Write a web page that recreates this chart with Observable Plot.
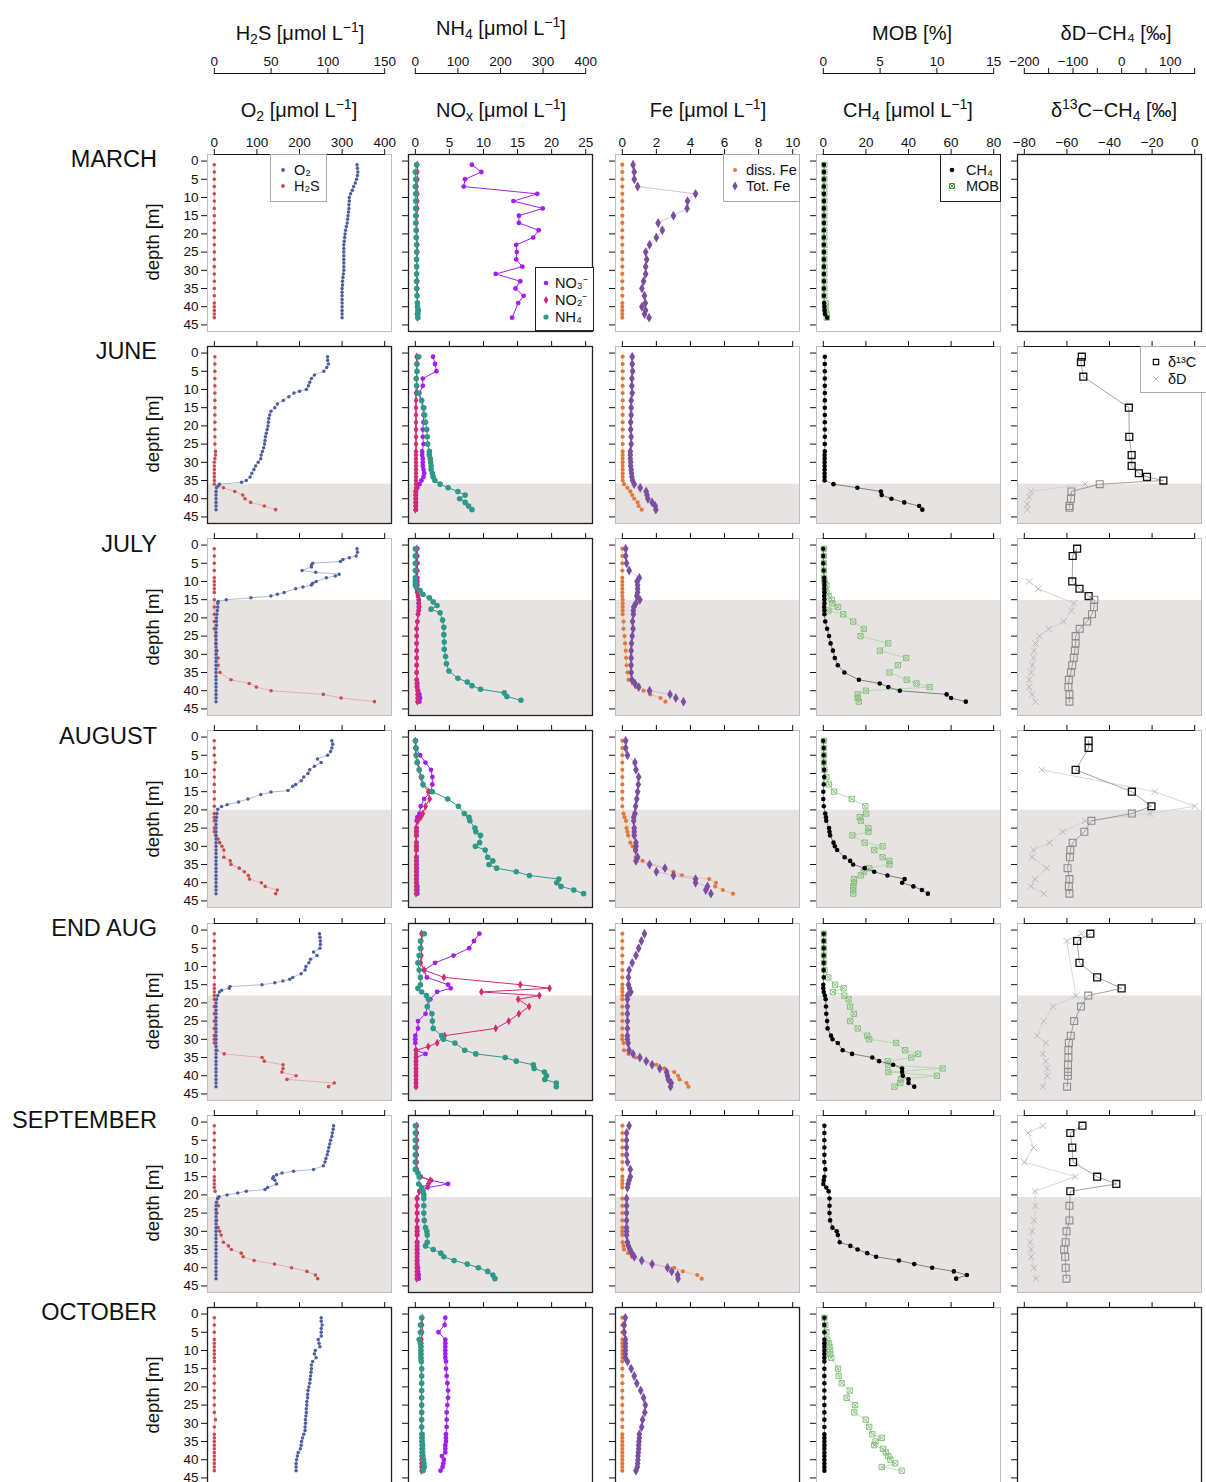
<!DOCTYPE html>
<html><head><meta charset="utf-8">
<script src="https://cdn.jsdelivr.net/npm/d3@7"></script>
<script src="https://cdn.jsdelivr.net/npm/@observablehq/plot@0.6"></script>
<style>
body{margin:0;background:#fff;}
#root{position:relative;width:1206px;height:1482px;overflow:hidden;background:#fff;font-family:"Liberation Sans",Arial,sans-serif;color:#111;}
.title{position:absolute;font-size:20px;white-space:nowrap;transform:translate(-50%,-50%);line-height:1;}
.title sub{font-size:70%;vertical-align:-0.3em;line-height:0;}
.title sup{font-size:70%;vertical-align:0.55em;line-height:0;}
.rowlab{position:absolute;left:0;width:157px;text-align:right;font-size:23.5px;line-height:1;transform:translateY(-50%);white-space:nowrap;}
.ylab{position:absolute;font-size:18.5px;line-height:1;white-space:nowrap;transform:translate(-50%,-50%) rotate(-90deg);}
.legend{position:absolute;background:#fff;font-size:14.5px;box-sizing:border-box;}
.legend span{position:absolute;white-space:nowrap;transform:translateY(-50%);line-height:1;}
.legend svg{position:absolute;overflow:visible;}
</style></head>
<body><div id="root"></div>
<script>
// ---------------- DATA ----------------
const months = ["MARCH","JUNE","JULY","AUGUST","END AUG","SEPTEMBER","OCTOBER"];
const anoxicTop = [null, 36.0, 15.2, 20.1, 18.1, 20.7, null];
const depthTicks = [0,5,10,15,20,25,30,35,40,45];
const o2Ticks = [0,100,200,300,400];
const h2sTicks = [0,50,100,150];
const noxTicks = [0,5,10,15,20,25];
const nh4Ticks = [0,100,200,300,400];
const feTicks = [0,2,4,6,8,10];
const ch4Ticks = [0,20,40,60,80];
const mobTicks = [0,5,10,15];
const d13Ticks = [-80,-60,-40,-20,0];
const dDTicks = [-200,-150,-100,-50,0,50,100,150];

// O2 [µmol/L]  [depth, value]
const o2Mar = [[1,335],[2,336],[3,337],[4,336],[5,334],[6,331],[7,327],[8,324],[9,320],[10,317],[11,317],[12,316],[13,316],[14,315],[15,314],[16,313],[17,312],[18,310],[19,308],[20,307],[21,306],[22,305],[23,304],[24,304],[25,304],[26,304],[27,304],[28,304],[29,304],[30,304],[31,303],[32,302],[33,301],[34,301],[35,300],[36,300],[37,300],[38,300],[39,300],[40,300],[41,300],[42,300],[43,300]];
const o2Jun = [[1,266],[2,266],[3,268],[4,264],[5,257],[6,235],[7,228],[8,224],[9,221],[10,216],[10.5,200],[11,187],[12,175],[13,162],[14,148],[15,142],[16,133],[17,130],[18,128],[19,127],[20,126],[21,124],[22,122],[23,120],[24,119],[25,118],[26,116],[27,113],[28,110],[29,109],[30,103],[31,97],[32,93],[33,88],[34,84],[35,75],[35.5,64],[36,12],[36.5,9],[37,5],[38,4],[39,4],[40,4],[41,4],[42,4],[43,4]];
const o2Jul = [[1,335],[2,336],[3,333],[3.5,317],[4,302],[4.5,296],[5,231],[5.5,228],[6,228],[7,206],[7.5,238],[8,293],[8.5,284],[9,263],[10,239],[10.5,231],[11,228],[11.5,208],[12,191],[13,164],[13.5,148],[14,133],[14.5,86],[15,28],[15.5,9],[16,8],[17,8],[18,7],[19,6],[20,5],[21,5],[22,5],[23,4],[24,4],[25,4],[26,4],[27,4],[28,4],[29,4],[30,4],[31,4],[32,4],[33,4],[34,4],[35,4],[36,4],[37,4],[38,4],[39,4],[40,4],[41,4],[42,4],[43,4]];
const o2Aug = [[1,276],[2,278],[3,276],[4,273],[5,266],[6,242],[7,251],[8,235],[9,224],[10,220],[11,210],[12,204],[13,191],[13.5,184],[14.7,173],[15.1,133],[15.8,109],[17,79],[17.8,57],[18.6,30],[19.1,17],[19.8,8],[21,6],[22,5],[23,4],[24,4],[25,4],[26,4],[27,4],[28,4],[29,4],[30,4],[31,4],[32,4],[33,4],[34,4],[35,4],[36,4],[37,4],[38,4],[39,4],[40,4],[41,4],[42,4],[43,4]];
const o2Eau = [[1,247],[2,248],[3,249],[4,249],[5,248],[6,233],[7,241],[8,226],[9,222],[10,215],[11,213],[12,204],[13,184],[13.5,177],[14,161],[14.5,142],[15,112],[15.5,37],[16,35],[16.5,17],[17,12],[18,8],[19,5],[20,4],[21,4],[22,4],[23,4],[24,4],[25,4],[26,4],[27,4],[28,4],[29,4],[30,4],[31,4],[32,4],[33,4],[34,4],[35,4],[36,4],[37,4],[38,4],[39,4],[40,4],[41,4],[42,4],[43,4]];
const o2Sep = [[1,280],[2,279],[3,277],[4,276],[5,273],[6,271],[7,269],[8,267],[9,265],[10,262],[11,260],[12,256],[13,233],[13.5,186],[14,159],[14.5,146],[15,139],[15.5,137],[16,142],[17,146],[18,125],[18.5,119],[19,75],[19.5,55],[20,30],[20.5,11],[21,8],[22,5],[23,4],[24,4],[25,4],[26,4],[27,4],[28,4],[29,4],[30,4],[31,4],[32,4],[33,4],[34,4],[35,4],[36,4],[37,4],[38,4],[39,4],[40,4],[41,4],[42,4],[43,4]];
const o2Oct = [[1,251],[2,251],[3,253],[4,251],[5,251],[6,251],[7,244],[8,246],[9,248],[10,237],[11,235],[12,239],[13,231],[14,228],[15,228],[16,227],[17,226],[18,225],[19,224],[20,222],[21,220],[22,219],[23,219],[24,217],[25,217],[26,216],[27,216],[28,215],[29,214],[30,214],[31,213],[32,213],[33,210],[34,207],[35,205],[36,204],[37,202],[38,197],[39,195],[40,193],[41,192],[42,192],[43,192]];

// H2S [µmol/L]
const h2sMar = [[1,0],[3,0],[5,0],[7,0],[9,0],[11,0],[13,0],[15,0],[17,0],[19,0],[21,0],[23,0],[25,0],[27,0],[29,0],[31,0],[33,0],[35,0],[37,0],[39,0],[40,0],[41,0],[42,0],[43,0]];
const h2sJun = [[1,0.5],[3,0.5],[5,0.5],[7,0.5],[9,0.5],[11,0.5],[13,0.5],[15,0.5],[17,0.5],[19,0.5],[21,0.5],[23,0.5],[25,0.5],[27,1],[28,1],[29,0.5],[30,0],[31,0],[32,0],[33,0],[34,0],[35,0],[36,0],[37,8],[38,18],[39,25],[40,27],[41,32],[42,44],[43,54]];
const h2sJul = [[1,0],[3,0],[5,0],[7,0],[9,0],[10,0],[11,0],[12,0],[13,0],[15,0],[17,0],[19,0],[21,0],[23,0],[25,1],[27,1.3],[29,2.3],[31,3.3],[33,3.3],[35,5],[37,14.7],[38,30.7],[39,37],[40,50],[41,96],[42,111.6],[43,141]];
const h2sAug = [[1,0],[3,0],[5,0],[7,0.7],[9,0],[11,0],[13,0],[15,0],[17,0],[19,0],[21,0],[22,0],[23,0],[25,0],[26,0],[27,1.3],[28,3.3],[29,4.7],[30,6.7],[31,8.4],[33,8.4],[34,14],[35,14.7],[36,22],[37,26.4],[38,30],[39,31],[40,41.4],[41,44.8],[42,55.4],[43,54]];
const h2sEau = [[1,0],[3,0],[5,0],[7,0],[9,0],[11,0],[13,0],[15,0],[16,0],[17,0],[18,0],[19,0],[21,0],[23,0],[25,0],[27,0],[29,0],[30,0],[31,0],[33,2.3],[34,8.7],[35,42],[36,44],[37,60.5],[38,60.5],[39,59.5],[40,72],[41,64],[42,105.6],[43,100.6]];
const h2sSep = [[1,0],[3,0],[5,0],[7,0],[9,0],[11,0],[13,0],[15,0],[16,0],[17,0],[18,0],[19,0.7],[21,3],[23,3.7],[25,2.3],[27,2],[29,3.3],[30,4.7],[31,6],[33,8],[34,12.4],[35,15],[36,23.7],[37,25.4],[38,35],[39,53],[40,68],[41,81.5],[42,89],[43,91]];
const h2sOct = [[1,0],[3,0],[5,0],[7,0],[8,0],[9,0],[10,0],[11,0],[12,0],[13,0],[15,0],[17,0],[19,0],[21,0],[23,0],[25,0],[27,0],[29,1],[31,0],[33,0],[34,0],[35,0],[36,0],[37,0],[38,0],[39,0],[40,0],[41,0],[42,0],[43,0]];

// NO3- [µmol/L]
const no3Mar = [[1,8.3],[3,9.7],[5,7.3],[7,7.1],[9,17.9],[11,14.4],[13,18.7],[15,15.2],[17,15.2],[19,18.1],[21,17.3],[23,14.8],[25,14.9],[27,14.8],[29,15.7],[31,11.8],[33,15.4],[35,14.7],[37,15.9],[39,15.1],[43,14.2]];
const no3Jun = [[1,2.6],[3,2.9],[5,3.1],[7,1.1],[9,1.1],[11,0.6],[13,0.9],[15,1.1],[17,1.2],[19,1.2],[21,1.1],[23,1.1],[25,1.2],[27,1.0],[28,1.0],[29,1.1],[30,1.1],[31,1.1],[32,1.2],[33,1.3],[34,1.2],[35,0.9],[36,0.6],[37,0.3],[38,0.1],[39,0.1],[40,0.1],[41,0.1],[42,0.1],[43,0.1]];
const no3Jul = [[1,0.3],[3,0.3],[5,0.3],[7,0.3],[9,0.3],[10,0.3],[11,0.3],[12,0.3],[13,0.3],[14,0.4],[15,0.5],[16,0.5],[17,0.5],[18,0.5],[19,0.4],[21,0.3],[23,0.2],[25,0.2],[27,0.2],[29,0.2],[31,0.2],[33,0.2],[35,0.2],[37,0.2],[38,0.3],[39,0.3],[40,0.4],[41,0.6],[42,0.7],[43,0.6]];
const no3Aug = [[1,0.1],[3,0.1],[5,0.7],[7,1.5],[9,2.3],[11,2.5],[13,2.5],[15,2.3],[17,1.3],[19,0.8],[21,0.6],[22,0.3],[23,0.2],[25,0.2],[26,0.2],[27,0.2],[29,0.2],[30,0.2],[31,0.2],[33,0.2],[34,0.2],[35,0.2],[36,0.2],[37,0.2],[38,0.2],[39,0.2],[40,0.2],[41,0.3],[42,0.3],[43,0.3]];
const no3Eau = [[1,9.4],[3,8.6],[5,7.9],[7,5.6],[9,2.9],[11,1.3],[13,1.7],[15,4.8],[16,5.2],[17,3.2],[19,2.2],[21,1.8],[23,1.5],[25,0.4],[27,0.4],[29,0],[30,0],[31,0],[33,0.1],[34,1.5],[35,0.1],[36,0.1],[37,0.1],[38,0.1],[39,0.1],[40,0.1],[41,0.1],[42,0.1],[43,0.1]];
const no3Sep = [[1,0.2],[3,0.2],[5,0.2],[7,0.2],[9,0.2],[11,0.2],[13,0.2],[15,0.8],[16,2.3],[17,4.8],[18,1.8],[19,0.6],[21,0.3],[23,0.3],[25,0.3],[27,0.3],[29,0.3],[30,0.3],[31,0.3],[33,0.3],[34,0.3],[35,0.3],[36,0.3],[37,0.3],[38,0.3],[39,0.3],[40,0.4],[41,0.4],[42,0.5],[43,0.5]];
const no3Oct = [[1,4.4],[3,4.3],[5,3.4],[7,4.4],[8,4.4],[9,4.4],[10,4.4],[11,4.4],[12,4.4],[13,4.5],[15,4.5],[17,4.6],[19,4.7],[21,4.8],[23,4.8],[25,4.7],[27,4.6],[29,4.6],[31,4.6],[33,4.5],[34,4.5],[35,4.5],[36,4.4],[37,4.4],[38,4.4],[39,3.9],[40,4.2],[41,4.1],[42,4.0],[43,3.7]];

// NO2- [µmol/L]
const no2Mar = [[1,0.3],[3,0.3],[5,0.3],[7,0.2],[9,0.3],[11,0.3],[13,0.3],[15,0.2],[17,0.2],[19,0.2],[21,0.2],[23,0.3],[25,0.3],[27,0.2],[29,0.2],[31,0.2],[33,0.3],[35,0.3],[37,0.3],[39,0.3],[40,0.3],[41,0.3],[42,0.2],[43,0.3]];
const no2Jun = [[1,0.2],[3,0.2],[5,0.2],[7,0.2],[9,0.2],[11,0.1],[13,0.1],[15,0.1],[17,0.1],[19,0.1],[21,0.1],[23,0.1],[25,0.1],[27,0.1],[28,0.1],[29,0.1],[30,0.1],[31,0.1],[32,0.1],[33,0.1],[34,0.1],[35,0.1],[36,0.1],[37,0.1],[38,0],[39,0],[40,0],[41,0],[42,0],[43,0]];
const no2Jul = [[1,0.2],[3,0.2],[5,0.2],[7,0.2],[9,0.2],[10,0.2],[11,0.2],[12,0.2],[13,0.3],[14,0.4],[15,0.5],[16,0.5],[17,0.6],[18,0.5],[19,0.4],[21,0.3],[23,0.2],[25,0.2],[27,0.2],[29,0.2],[31,0.2],[33,0.2],[35,0.2],[37,0.2],[38,0.2],[39,0.2],[40,0.3],[41,0.3],[42,0.3],[43,0.3]];
const no2Aug = [[1,0],[3,0],[5,0.1],[7,0.4],[9,0.6],[11,0.8],[13,1.1],[15,1.9],[17,2.1],[19,1.5],[21,1.1],[22,0.8],[23,0.4],[25,0.1],[26,0.1],[27,0.1],[29,0.1],[30,0.1],[31,0.1],[33,0.1],[34,0.1],[35,0.1],[36,0.1],[37,0.1],[38,0.1],[39,0.1],[40,0.1],[41,0.1],[42,0.1],[43,0.1]];
const no2Eau = [[1,0.9],[3,0.9],[5,0.9],[7,0.9],[9,0.8],[11,1.3],[13,4.2],[15,15.4],[16,19.7],[17,9.7],[18,18.2],[19,15.1],[21,16.7],[23,15.2],[25,13.7],[27,11.8],[29,4.3],[31,3.2],[32,1.9],[33,0.1],[34,0.1],[35,0.1],[36,0.1],[37,0.1],[38,0.1],[39,0.1],[40,0.1],[41,0.1],[42,0.1],[43,0.1]];
const no2Sep = [[1,0.2],[3,0.2],[5,0.2],[7,0.2],[9,0.2],[11,0.2],[13,0.2],[15,0.7],[16,2.2],[17,1.9],[18,0.9],[19,0.6],[21,0.2],[23,0.2],[25,0.2],[27,0.2],[29,0.2],[30,0.2],[31,0.2],[33,0.2],[34,0.2],[35,0.2],[36,0.2],[37,0.2],[38,0.2],[39,0.2],[40,0.2],[41,0.2],[42,0.2],[43,0.2]];
const no2Oct = [[1,1.0],[3,1.0],[5,1.0],[7,0.9],[8,0.9],[9,0.9],[10,0.9],[11,0.9],[12,0.9],[13,0.9],[15,0.9],[17,0.9],[19,0.9],[21,0.9],[23,0.9],[25,0.9],[27,0.9],[29,0.9],[31,0.9],[33,0.9],[34,0.9],[35,0.9],[36,0.9],[37,0.9],[38,0.9],[39,0.9],[40,0.9],[41,0.9],[42,0.9],[43,0.9]];

// NH4 [µmol/L]
const nh4Mar = [[1,3],[3,0],[5,1],[7,0],[9,1],[11,1],[13,1],[15,1],[17,1],[19,2],[21,2],[23,3],[25,3],[27,3],[29,3],[31,3],[33,3],[35,3],[37,4],[39,5],[40,5],[41,7],[42,6],[43,6]];
const nh4Jun = [[1,8],[3,4],[5,4],[7,2],[9,3],[11,6],[13,15],[15,20],[17,22],[19,24],[21,27],[23,28],[25,29],[27,33],[28,33],[29,35],[30,36],[31,37],[32,37],[33,40],[34,42],[35,46],[36,58],[37,77],[38,100],[39,117],[40,104],[41,117],[42,125],[43,133]];
const nh4Jul = [[1,0],[3,0],[5,0],[7,0],[9,0],[10,0],[11,0],[11.5,2],[12.5,11],[13.5,18],[14.5,33],[15.6,42],[16.6,51],[17.6,37],[18.6,58],[20.6,64],[22.6,67],[24.6,67],[26.6,68],[28.6,68],[30.6,71],[32.6,73],[34.6,79],[36.6,100],[37.6,122],[38.6,133],[39.6,153],[40.6,209],[41.6,215],[42.6,248]];
const nh4Aug = [[1,0],[3,2],[5,2],[7,4],[9,9],[11,15],[13,18],[15,40],[17,76],[19,101],[21,115],[22,126],[23,128],[25,140],[26,142],[27,153],[29,151],[30,141],[31,164],[33,170],[34,182],[35,173],[36,191],[37,237],[38,268],[39,337],[40,332],[41,342],[42,372],[43,395]];
const nh4Eau = [[1,21],[3,12],[5,12],[7,9],[9,6],[11,9],[13,12],[15,12],[16,6],[17,15],[18,26],[19,31],[21,28],[23,39],[25,40],[27,42],[29,62],[30,66],[31,93],[33,116],[34,142],[35,211],[36,237],[37,277],[38,279],[39,303],[40,308],[41,304],[42,331],[43,331]];
const nh4Sep = [[1,0],[3,0],[5,0],[7,0],[9,0],[11,0],[13,0],[14,6],[15,9],[17,8],[18,15],[19,18],[20,20],[21,20],[23,20],[25,20],[27,21],[29,24],[30,27],[31,28],[33,28],[34,24],[35,42],[36,60],[37,67],[38,91],[39,122],[40,148],[41,170],[42,182],[43,187]];
const nh4Oct = [[1,15],[3,12],[5,12],[7,9],[8,12],[9,13],[10,13],[11,13],[12,13],[13,14],[15,15],[17,15],[19,15],[21,15],[23,15],[25,15],[27,15],[29,15],[31,15],[33,16],[34,16],[35,16],[36,17],[37,17],[38,17],[39,18],[40,19],[41,20],[42,21],[43,18]];

// dissolved Fe [µmol/L]
const dfeMar = [[1,0],[3,0],[5,0],[7,0],[9,0],[11,0],[13,0],[15,0],[17,0],[19,0],[21,0],[23,0],[25,0],[27,0],[29,0],[31,0],[33,0],[35,0],[37,0],[39,0],[40,0],[41,0],[42,0],[43,0]];
const dfeJun = [[1,0.02],[3,0.02],[5,0.02],[7,0.02],[9,0.02],[11,0.02],[13,0.02],[15,0.02],[17,0.02],[19,0.02],[21,0.02],[23,0.02],[25,0.02],[27,0.02],[28,0.02],[29,0.02],[30,0.02],[31,0.02],[32,0.02],[33,0.02],[34,0.02],[35,0.02],[36,0.1],[37,0.3],[38,0.47],[39,0.58],[40,0.7],[41,0.9],[42,0.96],[43,1.14]];
const dfeJul = [[1,0],[3,0],[5,0],[7,0],[9,0],[10,0],[11,0],[12,0],[13,0],[14,0],[15,0.02],[16,0.02],[17,0.02],[18,0.02],[19,0.02],[21,0.07],[23,0.07],[25,0.13],[27,0.16],[29,0.2],[31,0.22],[33,0.25],[35,0.3],[37,0.36],[38,0.63],[39,0.8],[40,1.25],[41,1.64],[42,2.24],[43,2.53]];
const dfeAug = [[1,0],[3,0],[5,0],[7,0],[9,0],[11,0],[13,0],[15,0],[17,0],[19,0],[21,0.07],[22,0.13],[23,0.22],[25,0.25],[26,0.3],[27,0.34],[29,0.47],[30,0.6],[31,0.74],[33,0.78],[34,1.19],[36,2.5],[37,3.0],[38,3.5],[39,5.1],[40,5.5],[41,5.45],[42,5.9],[43,6.5]];
const dfeEau = [[1,0],[3,0],[5,0],[7,0],[9,0],[11,0],[13,0],[15,0],[16,0],[17,0],[18,0],[19,0],[21,0],[23,0],[25,0],[27,0],[29,0],[30,0],[31,0.07],[33,0.1],[34,0.36],[35,0.78],[36,1.46],[37,2.0],[38,2.47],[39,3.05],[40,3.27],[41,3.36],[42,3.77],[43,3.88]];
const dfeSep = [[1,0],[3,0],[5,0],[7,0],[9,0],[11,0],[13,0],[15,0],[16,0],[17,0],[18,0],[21,0],[23,0],[25,0],[27,0],[29,0],[30,0],[31,0],[33,0.02],[34,0.07],[35,0.1],[36,0.34],[37,0.56],[39,1.75],[40,3.05],[41,3.55],[42,4.4],[43,4.66]];
const dfeOct = [[1,0],[3,0],[5,0],[7,0],[8,0],[9,0],[10,0],[11,0],[12,0],[13,0],[15,0],[17,0],[19,0],[21,0],[23,0],[25,0],[27,0],[29,0],[31,0],[33,0],[34,0],[35,0],[36,0],[37,0],[38,0],[39,0],[40,0],[41,0],[42,0],[43,0]];

// total Fe [µmol/L]
const tfeMar = [[1,0.63],[3,0.7],[5,0.7],[7,0.9],[9,4.3],[11,3.83],[13,3.8],[15,3.0],[17,2.1],[19,2.35],[21,2.0],[23,1.6],[25,1.37],[27,1.43],[29,1.37],[31,1.37],[33,1.25],[35,1.15],[37,1.3],[39,1.35],[40,1.15],[41,1.37],[42,1.3],[43,1.57]];
const tfeJun = [[1,0.58],[3,0.58],[5,0.6],[7,0.56],[9,0.56],[11,0.58],[13,0.52],[15,0.52],[17,0.52],[19,0.49],[21,0.49],[23,0.52],[25,0.52],[27,0.47],[28,0.47],[29,0.47],[30,0.49],[31,0.49],[32,0.52],[33,0.54],[34,0.56],[35,0.6],[36,0.7],[37,1.05],[38,1.4],[39,1.45],[40,1.5],[41,1.75],[42,1.93],[43,1.97]];
const tfeJul = [[1,0.2],[3,0.2],[5,0.25],[7,0.4],[9,1.0],[10,0.87],[11,0.9],[12,0.9],[13,0.9],[14,0.85],[15,1.03],[16,0.8],[17,0.67],[18,0.65],[19,0.65],[21,0.6],[23,0.63],[25,0.58],[27,0.54],[29,0.52],[31,0.52],[33,0.52],[35,0.52],[37,0.56],[38,0.74],[39,0.96],[40,1.6],[41,2.8],[42,3.14],[43,3.59]];
const tfeAug = [[1,0.2],[3,0.2],[5,0.3],[7,0.74],[9,0.8],[11,0.96],[13,0.94],[15,0.9],[17,0.85],[19,0.78],[21,0.74],[22,0.67],[23,0.67],[25,0.7],[26,0.7],[27,0.7],[29,0.8],[30,0.8],[31,0.78],[33,0.9],[34,0.8],[35,1.6],[36,2.5],[37,2.0],[38,3.0],[39,4.3],[40,4.3],[41,5.0],[42,4.9],[43,5.2]];
const tfeEau = [[1,1.3],[3,1.12],[5,0.96],[7,0.8],[9,0.58],[11,0.4],[13,0.36],[15,0.36],[16,0.42],[17,0.5],[18,0.3],[19,0.3],[21,0.3],[23,0.3],[25,0.3],[27,0.3],[29,0.3],[30,0.3],[31,0.34],[33,0.4],[34,0.63],[35,1.03],[36,1.4],[37,1.75],[38,2.2],[39,2.6],[40,2.65],[41,2.7],[42,2.87],[43,2.83]];
const tfeSep = [[1,0.4],[3,0.25],[5,0.25],[7,0.25],[9,0.25],[11,0.3],[13,0.47],[15,0.47],[16,0.4],[17,0.34],[18,0.3],[21,0.25],[23,0.25],[25,0.25],[27,0.25],[29,0.25],[30,0.25],[31,0.25],[33,0.3],[34,0.36],[35,0.45],[36,0.56],[37,0.7],[38,1.14],[39,1.75],[40,2.65],[41,2.9],[42,3.25],[43,3.27]];
const tfeOct = [[1,0.18],[3,0.11],[5,0.11],[7,0.18],[8,0.18],[9,0.18],[10,0.18],[11,0.18],[12,0.18],[13,0.3],[15,0.52],[17,0.7],[19,0.85],[21,1.08],[23,1.25],[25,1.35],[27,1.32],[29,1.19],[31,1.14],[33,1.0],[34,1.0],[35,0.98],[36,0.96],[37,0.96],[38,0.94],[39,0.92],[40,0.92],[41,0.9],[42,0.88],[43,0.8]];

// CH4 [µmol/L]
const ch4Mar = [[1,0.3],[3,0.3],[5,0.3],[7,0.3],[9,0.3],[11,0.3],[13,0.3],[15,0.3],[17,0.3],[19,0.3],[21,0.3],[23,0.3],[25,0.3],[27,0.3],[29,0.3],[31,0.3],[33,0.3],[35,0.3],[37,0.3],[39,0.4],[40,0.5],[41,0.6],[42,0.8],[43,1.8]];
const ch4Jun = [[1,0.7],[3,0.7],[5,0.7],[7,0.7],[9,0.7],[11,0.7],[13,0.7],[15,0.7],[17,0.7],[19,0.7],[21,0.7],[23,0.7],[25,0.7],[27,0.7],[28,0.6],[29,0.6],[30,0.6],[31,0.6],[32,0.6],[33,0.6],[34,0.6],[35,0.6],[36,4.8],[37,16],[38,27],[39,27.4],[40,32],[41,38],[42,45],[43,46.5]];
const ch4Jul = [[1,0],[3,0],[5,0],[7,0.2],[9,0.4],[10,0.5],[11,0.5],[12,0.5],[13,0.5],[14,0.4],[15,0.5],[16,0.5],[17,0.4],[18,0.5],[19,0.5],[21,0.9],[23,1.8],[25,2.7],[27,3.4],[29,4.5],[31,5.4],[33,6.8],[35,9.9],[37,16.7],[38,26.5],[39,30.5],[40,35.9],[41,57.9],[42,60],[43,66.9]];
const ch4Aug = [[1,0],[3,0.2],[5,0.2],[7,0.2],[9,0.4],[11,0.4],[13,0.2],[15,0],[17,0],[19,0.2],[21,0.9],[22,1.25],[23,1.4],[25,2.7],[26,2.9],[27,3.2],[29,4.8],[30,5.4],[31,6.5],[33,10],[34,12.6],[35,14],[36,19.4],[37,23.9],[38,30.1],[39,38.2],[40,37],[41,42.3],[42,46.3],[43,49.1]];
const ch4Eau = [[1,0.2],[3,0.2],[5,0.2],[7,0.2],[9,0.2],[11,0.2],[13,0.2],[15,0],[16,0],[17,0.2],[18,0.7],[19,1.1],[21,1.25],[23,1.4],[25,1.8],[27,2.0],[29,3.6],[30,4.3],[31,6.8],[33,9.1],[34,13.5],[35,23],[36,26.2],[37,32.8],[38,37],[39,37],[40,37.3],[41,40],[42,40],[43,42.7]];
const ch4Sep = [[1,0.5],[3,0.5],[5,0.5],[7,0.5],[9,0.5],[11,0.5],[13,0.9],[15,0.5],[16,0.2],[17,0],[18,1.4],[19,2.5],[21,2.9],[23,2.9],[25,2.9],[27,3.2],[29,4.3],[30,6.3],[31,6.8],[33,7.7],[34,12.7],[35,16.1],[36,20.6],[37,24.8],[38,35.5],[39,42.7],[40,51.1],[41,61.3],[42,67.4],[43,62.4]];
const ch4Oct = [[1,0.5],[3,0.5],[5,0.5],[7,0.5],[8,0.5],[9,0.5],[10,0.5],[11,0.5],[12,0.5],[13,0.5],[15,0.5],[17,0.5],[19,0.5],[21,0.5],[23,0.5],[25,0.5],[27,0.5],[29,0.5],[31,0.5],[33,0.5],[34,0.5],[35,0.5],[36,0.5],[37,0.5],[38,0.5],[39,0.5],[40,0.5],[41,0.5],[42,0.5],[43,0.5]];

// MOB [%]
const mobMar = [[1,0.1],[3,0.1],[5,0.1],[7,0.1],[9,0.1],[11,0.1],[13,0.1],[15,0.1],[17,0.1],[19,0.1],[21,0.1],[23,0.1],[25,0.1],[27,0.1],[29,0.1],[31,0.1],[33,0.1],[35,0.1],[37,0.1],[39,0.2],[40,0.2],[41,0.2],[42,0.3],[43,0.3]];
const mobJun = [];
const mobJul = [[1,0.05],[3,0.05],[5,0.05],[7,0.05],[9,0.07],[10,0.1],[11,0.27],[12,0.13],[13,0.27],[14,0.47],[15,0.74],[16,0.8],[17,1.3],[18,0.44],[19,1.75],[21,2.63],[23,3.57],[25,3.27],[27,5.72],[29,4.98],[31,7.3],[33,6.57],[35,5.82],[37,7.34],[38,8.2],[39,9.36],[40,3.74],[41,3.03],[42,3.03],[43,3.13]];
const mobAug = [[1,0.05],[3,0.05],[5,0.05],[7,0.05],[9,0.1],[11,0.27],[13,0.5],[15,0.94],[17,2.5],[19,3.7],[21,3.77],[22,3.2],[23,3.3],[25,3.97],[26,3.97],[27,2.56],[29,3.64],[30,5.22],[31,4.48],[33,5.22],[34,5.82],[35,5.82],[36,4.04],[37,3.57],[38,3.3],[39,2.7],[40,2.7],[41,2.63],[42,2.63],[43,2.63]];
const mobEau = [[1,0.05],[3,0.05],[5,0.05],[7,0.05],[9,0.05],[11,0.1],[13,0.44],[15,1.04],[16,1.78],[17,0.84],[18,1.85],[19,2.22],[21,2.36],[23,2.69],[25,2.36],[27,3.03],[29,3.87],[30,4.04],[31,6.4],[33,7.2],[34,8.35],[35,7.74],[36,5.66],[37,5.72],[38,10.5],[39,5.72],[40,10.0],[41,6.84],[42,6.77],[43,6.26]];
const mobSep = [];
const mobOct = [[1,0.1],[3,0.17],[5,0.27],[7,0.34],[8,0.5],[9,0.54],[10,0.6],[11,0.6],[12,0.7],[15,1.3],[17,1.35],[19,1.62],[21,2.32],[23,2.05],[25,2.8],[27,2.73],[29,3.74],[31,4.04],[33,4.31],[34,5.15],[35,4.6],[36,4.48],[37,5.25],[38,5.5],[39,5.72],[40,5.9],[41,6.33],[42,5.15],[43,6.9]];

// δ13C-CH4 [‰]
const d13Mar = [];
const d13Jun = [[1,-53],[2.5,-53.4],[6.5,-52.3],[15,-30.9],[23,-30.7],[28,-29.6],[31,-29.6],[33,-26.2],[34,-22.4],[35,-14.7],[36,-44.6],[38,-57.9],[40,-58.1],[42,-58.8],[42.5,-58.8]];
const d13Jul = [[1,-55.2],[3,-57.3],[10,-57.5],[12,-54.1],[14,-49.8],[15,-47.1],[17,-47.3],[19,-48.2],[21,-50.5],[23,-54],[25,-55.9],[27,-55.9],[29,-56.3],[31,-56.8],[33,-57.5],[35,-58.1],[37,-59.1],[39,-59.3],[41,-58.8],[43,-58.8]];
const d13Aug = [[1,-49.8],[3,-49.8],[9,-55.9],[15,-29.5],[19,-20.3],[21,-29.5],[23,-48.5],[26,-51.8],[29,-57.3],[31,-58.4],[33,-58.6],[36,-59.7],[39,-58.8],[41,-59.1],[43,-58.8]];
const d13Eau = [[1,-49],[3,-55.2],[9,-54.1],[13,-45.8],[16,-34.3],[18,-50],[21,-53.4],[25,-56.6],[29,-58.2],[31,-59.1],[33,-59.3],[35,-59.3],[37,-59.5],[39,-59.5],[40,-59.5],[43,-59.9]];
const d13Sep = [[1,-52.7],[3,-58.4],[7,-57.5],[11,-57.1],[15,-45.8],[17,-36.8],[19,-58.4],[23,-58.8],[27,-58.8],[30,-60.2],[33,-60.6],[35,-61.3],[37,-60.8],[40,-60.6],[43,-60.2]];
const d13Oct = [];

// δD-CH4 [‰]
const dDMar = [];
const dDJun = [[36,-75],[38,-187],[39.5,-190],[41.5,-194],[43,-194]];
const dDJul = [[10,-190],[12,-171],[16,-98],[18,-103],[21,-119],[23,-150],[25,-169],[27,-177],[29,-180],[31,-181],[33,-184],[35,-186],[37,-190],[39,-190],[41,-184],[43,-177]];
const dDAug = [[9,-164],[15,68],[19,150],[21,58],[23,-75],[26,-121],[29,-148],[31,-181],[33,-184],[36,-154],[39,-178],[41,-186],[43,-160]];
const dDEau = [[1,-83],[3,-113],[18,-94],[21,-141],[25,-160],[29,-174],[31,-156],[34,-162],[36,-156],[38,-153],[40,-153],[43,-162]];
const dDSep = [[1,-162],[3,-192],[7,-181],[11,-200],[15,-95],[19,-178],[23,-177],[27,-180],[30,-184],[33,-188],[35,-186],[37,-186],[40,-180],[43,-176]];
const dDOct = [];

// ---------------- LAYOUT & STYLE ----------------
const FL = [207, 408, 615, 816, 1017];
const FW = 184, FH = 177, ROW_TOP0 = 153.7, ROW_PITCH = 192.2;
const ML = 62, MR = 8, MT = 30, MB = 6;
const SHADE = "#e7e3e3";
const FONT = "'Liberation Sans', Arial, sans-serif";
const pad = ([a, b]) => { const p = (b - a) * 0.04; return [a - p, b + p]; };
const DEPTH_DOM = pad([0, 45]);
const minus = d => d < 0 ? "\u2212" + Math.abs(d) : String(d);
const frameDark = [[0,1,0,0,1],[1,1,0,0,0],[0,1,0,0,0],[0,1,0,0,0],[0,1,0,0,0],[0,1,0,0,0],[1,1,1,0,1]];

const ST = {
  o2:  {fill:"#4e5d9c", line:"#a7b1d6", r:1.75, lw:0.9},
  h2s: {fill:"#cc4b4b", line:"#e4a2a2", r:1.8, lw:0.8},
  no3: {fill:"#a21ff0", line:"#a21ff0", r:2.4, lw:1},
  no2: {fill:"#d42a6f", line:"#d42a6f", r:2.5, lw:1, symbol:"diamond"},
  nh4: {fill:"#2f9987", line:"#2f9987", r:2.8, lw:1},
  dfe: {fill:"#e2793b", line:"#efb38d", r:2.1, lw:0.8},
  tfe: {fill:"#7b4f9f", line:"#c5b5db", r:3.0, lw:0.8, symbol:"diamond"},
  ch4: {fill:"#000000", line:"#555555", r:2.3, lw:0.7},
  mob: {stroke:"#7fbc76", line:"#a8d59e", r:3, lw:0.8, kind:"mob"},
  d13: {stroke:"#111111", stroke2:"#8c8c8c", line:"#8c8c8c", r:3.9, lw:0.8, kind:"d13"},
  dD:  {stroke:"#b3b3b3", line:"#cdcdcd", r:3, lw:0.8, kind:"times"}
};

const COLS = [
  {dom: pad([0,400]), ticks: o2Ticks, prim: [[[o2Mar,o2Jun,o2Jul,o2Aug,o2Eau,o2Sep,o2Oct], ST.o2]],
   sec: {dom: pad([0,150]), ticks: h2sTicks, series: [[[h2sMar,h2sJun,h2sJul,h2sAug,h2sEau,h2sSep,h2sOct], ST.h2s]]}},
  {dom: pad([0,25]), ticks: noxTicks, prim: [[[no3Mar,no3Jun,no3Jul,no3Aug,no3Eau,no3Sep,no3Oct], ST.no3],[[no2Mar,no2Jun,no2Jul,no2Aug,no2Eau,no2Sep,no2Oct], ST.no2]],
   sec: {dom: pad([0,400]), ticks: nh4Ticks, onTop: true, series: [[[nh4Mar,nh4Jun,nh4Jul,nh4Aug,nh4Eau,nh4Sep,nh4Oct], ST.nh4]]}},
  {dom: pad([0,10]), ticks: feTicks, prim: [[[dfeMar,dfeJun,dfeJul,dfeAug,dfeEau,dfeSep,dfeOct], ST.dfe],[[tfeMar,tfeJun,tfeJul,tfeAug,tfeEau,tfeSep,tfeOct], ST.tfe]]},
  {dom: pad([0,80]), ticks: ch4Ticks, prim: [[[ch4Mar,ch4Jun,ch4Jul,ch4Aug,ch4Eau,ch4Sep,ch4Oct], ST.ch4]],
   sec: {dom: pad([0,15]), ticks: mobTicks, series: [[[mobMar,mobJun,mobJul,mobAug,mobEau,mobSep,mobOct], ST.mob]]}},
  {dom: pad([-80,0]), ticks: d13Ticks, prim: [[[d13Mar,d13Jun,d13Jul,d13Aug,d13Eau,d13Sep,d13Oct], ST.d13]],
   sec: {dom: pad([-200,150]), ticks: dDTicks, labelEvery: 100, series: [[[dDMar,dDJun,dDJul,dDAug,dDEau,dDSep,dDOct], ST.dD]]}}
];

// ---------------- RENDER ----------------
const root = document.getElementById("root");
function place(el, left, top) {
  el.style.position = "absolute";
  el.style.left = left + "px";
  el.style.top = top + "px";
  root.appendChild(el);
}
const plotStyle = `background:transparent;overflow:visible;font-family:${FONT};font-size:13.5px;color:#111;`;

function seriesMarks(pairs, st, boundary) {
  const rows = pairs.map(([depth, value]) => ({depth, value}));
  if (!rows.length) return [];
  const ms = [Plot.line(rows, {x: "value", y: "depth", stroke: st.line, strokeWidth: st.lw})];
  if (st.kind === "mob") {
    ms.push(Plot.dot(rows, {x: "value", y: "depth", symbol: "square", r: st.r, stroke: st.stroke, fill: "none", strokeWidth: 0.9}));
    ms.push(Plot.dot(rows, {x: "value", y: "depth", symbol: "times", r: st.r * 0.72, stroke: st.stroke, strokeWidth: 0.8}));
  } else if (st.kind === "d13") {
    const anox = d => boundary != null && d.depth >= boundary - 0.3;
    ms.push(Plot.dot(rows.filter(d => !anox(d)), {x: "value", y: "depth", symbol: "square", r: st.r, stroke: st.stroke, fill: "none", strokeWidth: 1.3}));
    ms.push(Plot.dot(rows.filter(anox), {x: "value", y: "depth", symbol: "square", r: st.r, stroke: st.stroke2, fill: "none", strokeWidth: 1.1}));
  } else if (st.kind === "times") {
    ms.push(Plot.dot(rows, {x: "value", y: "depth", symbol: "times", r: st.r, stroke: st.stroke, strokeWidth: 0.9}));
  } else {
    ms.push(Plot.dot(rows, {x: "value", y: "depth", symbol: st.symbol || "circle", r: st.r, fill: st.fill, stroke: "none"}));
  }
  return ms;
}

const W = ML + FW + MR, H = MT + FH + MB;
function layer(dom, marks, left, top) {
  const p = Plot.plot({
    width: W, height: H, marginLeft: ML, marginRight: MR, marginTop: MT, marginBottom: MB,
    x: {domain: dom, axis: null}, y: {domain: DEPTH_DOM, reverse: true, axis: null},
    style: plotStyle, marks
  });
  p.style.pointerEvents = "none";
  place(p, left, top);
}
for (let m = 0; m < months.length; m++) {
  const rowTop = ROW_TOP0 + m * ROW_PITCH;
  for (let c = 0; c < COLS.length; c++) {
    const col = COLS[c];
    const b = anoxicTop[m];
    const dark = frameDark[m][c];
    const left = FL[c] - ML, top = rowTop - MT;
    // underlay: shading, frame, axes
    const marks = [];
    if (b != null) marks.push(Plot.rect([{x1: col.dom[0], x2: col.dom[1], y1: b, y2: DEPTH_DOM[1]}], {x1: "x1", x2: "x2", y1: "y1", y2: "y2", fill: SHADE}));
    marks.push(Plot.frame({stroke: dark ? "#222" : "#bdbdbd", strokeWidth: dark ? 1.3 : 1}));
    marks.push(Plot.ruleY([{y: DEPTH_DOM[0], x1: col.ticks[0], x2: col.ticks[col.ticks.length - 1]}], {y: "y", x1: "x1", x2: "x2", stroke: "#111", strokeWidth: 1}));
    marks.push(Plot.axisX({anchor: "top", ticks: col.ticks, tickSize: 6, tickPadding: 2, label: null, tickFormat: m === 0 ? minus : () => ""}));
    marks.push(Plot.axisY({anchor: "left", ticks: depthTicks, tickSize: 6, tickPadding: 3, label: null, tickFormat: c === 0 ? d => String(d) : () => ""}));
    const base = Plot.plot({
      width: W, height: H, marginLeft: ML, marginRight: MR, marginTop: MT, marginBottom: MB,
      x: {domain: col.dom, label: null}, y: {domain: DEPTH_DOM, reverse: true, label: null},
      style: plotStyle, marks
    });
    place(base, left, top);
    const pmarks = [];
    for (const [arr, st] of col.prim) pmarks.push(...seriesMarks(arr[m], st, b));
    const smarks = [];
    if (col.sec) for (const [arr, st] of col.sec.series) smarks.push(...seriesMarks(arr[m], st, b));
    const drawSec = () => { if (smarks.length) layer(col.sec.dom, smarks, left, top); };
    const drawPrim = () => { if (pmarks.length) layer(col.dom, pmarks, left, top); };
    if (col.sec && col.sec.onTop) { drawPrim(); drawSec(); } else { drawSec(); drawPrim(); }
  }
  // row label + depth label
  const pxPerM = FH / (DEPTH_DOM[1] - DEPTH_DOM[0]);
  const depth0 = rowTop + 1.8 * pxPerM;
  const rl = document.createElement("div");
  rl.className = "rowlab"; rl.textContent = months[m];
  rl.style.top = depth0 + "px";
  root.appendChild(rl);
  const yl = document.createElement("div");
  yl.className = "ylab"; yl.textContent = "depth [m]";
  yl.style.left = "153px"; yl.style.top = (depth0 + 22.5 * pxPerM) + "px";
  root.appendChild(yl);
}

// secondary top axes
for (let c = 0; c < COLS.length; c++) {
  const sec = COLS[c].sec;
  if (!sec) continue;
  const every = sec.labelEvery;
  const ax = Plot.plot({
    width: W, height: 45, marginLeft: ML, marginRight: MR, marginTop: 35, marginBottom: 9,
    x: {domain: sec.dom, label: null}, y: {domain: [0, 1], axis: null},
    style: plotStyle,
    marks: [
      Plot.ruleY([{y: 1, x1: sec.ticks[0], x2: sec.ticks[sec.ticks.length - 1]}], {y: "y", x1: "x1", x2: "x2", stroke: "#111"}),
      Plot.axisX({anchor: "top", ticks: sec.ticks, tickSize: 6, tickPadding: 2, label: null,
        tickFormat: every ? (d => d % every === 0 ? minus(d) : "") : minus})
    ]
  });
  place(ax, FL[c] - ML, 73 - 35);
}

// titles
function title(x, y, html) {
  const d = document.createElement("div");
  d.className = "title"; d.innerHTML = html;
  d.style.left = x + "px"; d.style.top = y + "px";
  root.appendChild(d);
}
title(300, 33, 'H<sub>2</sub>S [μmol L<sup>−1</sup>]');
title(501, 28, 'NH<sub>4</sub> [μmol L<sup>−1</sup>]');
title(912, 33, 'MOB [%]');
title(1116, 33, 'δD−CH₄ [‰]');
title(299, 110, 'O<sub>2</sub> [μmol L<sup>−1</sup>]');
title(501, 110, 'NO<sub>x</sub> [μmol L<sup>−1</sup>]');
title(708, 110, 'Fe [μmol L<sup>−1</sup>]');
title(908, 110, 'CH<sub>4</sub> [μmol L<sup>−1</sup>]');
title(1114, 110, 'δ<sup>13</sup>C−CH<sub>4</sub> [‰]');

// legends
function symPath(type, r) { return d3.symbol(type, Math.PI * r * r)(); }
function legend(x, y, w, h, border, symX, textX, y0, dy, items) {
  const div = document.createElement("div");
  div.className = "legend";
  div.style.cssText = `left:${x}px;top:${y}px;width:${w}px;height:${h}px;border:1px solid ${border};`;
  let html = "";
  items.forEach((it, i) => {
    const cy = y0 + i * dy;
    html += `<svg width="1" height="1" style="left:${symX}px;top:${cy}px">${it.svg}</svg>`;
    html += `<span style="left:${textX}px;top:${cy}px">${it.label}</span>`;
  });
  div.innerHTML = html;
  root.appendChild(div);
}
const circ = (r, f) => `<path d="${symPath(d3.symbolCircle, r)}" fill="${f}"/>`;
const diam = (r, f) => `<path d="${symPath(d3.symbolDiamond, r)}" fill="${f}"/>`;
legend(270, 153.5, 57, 48, "#aaa", 12, 23, 15, 16, [
  {svg: circ(1.9, ST.o2.fill), label: "O₂"}, {svg: circ(1.9, ST.h2s.fill), label: "H₂S"}]);
legend(535, 266.5, 59, 64, "#222", 10, 19, 15, 17, [
  {svg: circ(2.3, ST.no3.fill), label: "NO₃⁻"}, {svg: diam(2.5, ST.no2.fill), label: "NO₂⁻"}, {svg: circ(2.6, ST.nh4.fill), label: "NH₄"}]);
legend(723, 153.5, 77, 48, "#aaa", 11, 22, 15, 16, [
  {svg: circ(2.1, ST.dfe.fill), label: "diss. Fe"}, {svg: diam(2.8, ST.tfe.fill), label: "Tot. Fe"}]);
legend(940, 153.5, 61, 48, "#222", 11, 25, 15, 16, [
  {svg: circ(2.3, "#000"), label: "CH₄"},
  {svg: `<path d="${symPath(d3.symbolSquare, 2.8)}" fill="none" stroke="#2e9d2e" stroke-width="1"/><path d="${symPath(d3.symbolTimes, 2)}" fill="none" stroke="#2e9d2e" stroke-width="0.9"/>`, label: "MOB"}]);
legend(1140, 345.5, 72, 47, "#aaa", 15, 27, 15, 17, [
  {svg: `<path d="${symPath(d3.symbolSquare, 3)}" fill="none" stroke="#111" stroke-width="1.2"/>`, label: "δ¹³C"},
  {svg: `<path d="${symPath(d3.symbolTimes, 3)}" fill="none" stroke="#bbb" stroke-width="0.9"/>`, label: "δD"}]);
</script>
</body></html>
